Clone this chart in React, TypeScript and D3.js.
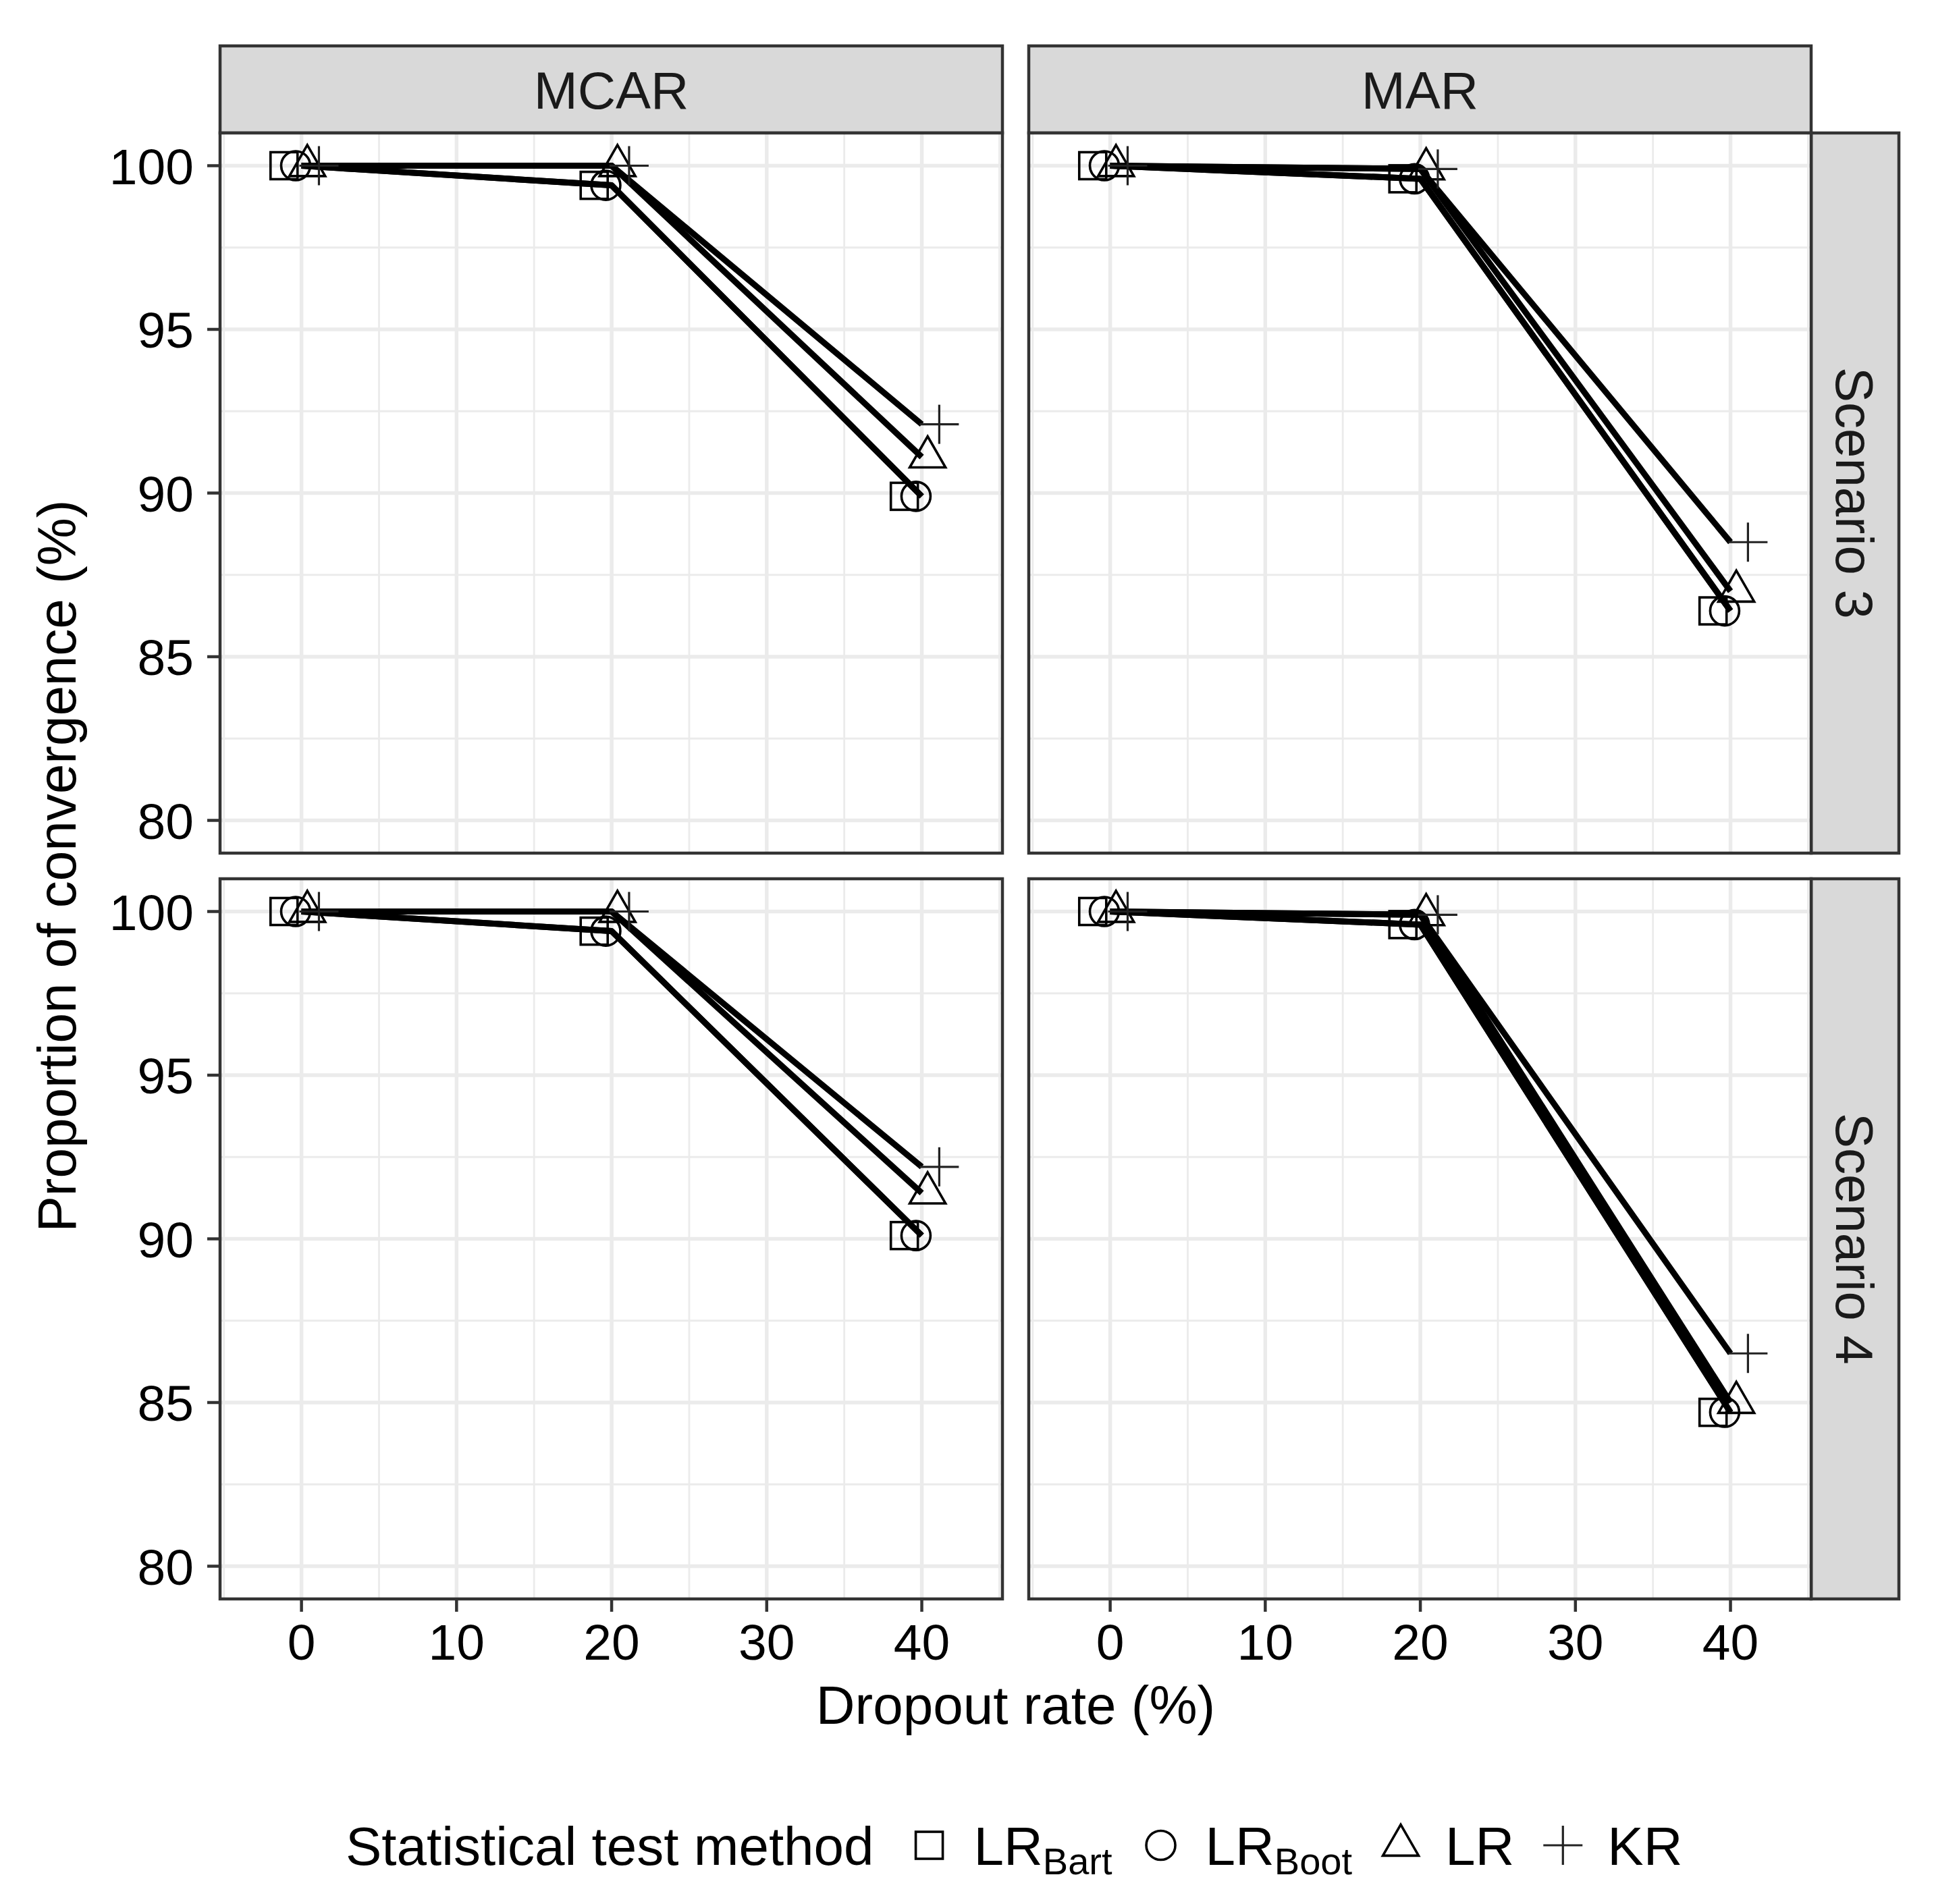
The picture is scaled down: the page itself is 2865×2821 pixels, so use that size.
import React from 'react';
import * as d3 from 'd3';

// ---------- data ----------
const dropoutRates = [0, 20, 40];
const methods = ['LR_Bart', 'LR_Boot', 'LR', 'KR'];
const mechanisms = ['MCAR', 'MAR'];
const scenarios = ['Scenario 3', 'Scenario 4'];

// Scenario 3, MCAR
const s3McarBart = [100, 99.4, 89.9];
const s3McarBoot = [100, 99.4, 89.9];
const s3McarLR = [100, 100, 91.1];
const s3McarKR = [100, 100, 92.1];
// Scenario 3, MAR
const s3MarBart = [100, 99.6, 86.4];
const s3MarBoot = [100, 99.6, 86.4];
const s3MarLR = [100, 99.9, 87.0];
const s3MarKR = [100, 99.9, 88.5];
// Scenario 4, MCAR
const s4McarBart = [100, 99.4, 90.1];
const s4McarBoot = [100, 99.4, 90.1];
const s4McarLR = [100, 100, 91.4];
const s4McarKR = [100, 100, 92.2];
// Scenario 4, MAR
const s4MarBart = [100, 99.6, 84.7];
const s4MarBoot = [100, 99.6, 84.7];
const s4MarLR = [100, 99.9, 85.0];
const s4MarKR = [100, 99.9, 86.5];

const xTicks = [0, 10, 20, 30, 40];
const xMinor = [-5, 5, 15, 25, 35, 45];
const yTicks = [80, 85, 90, 95, 100];
const yMinor = [82.5, 87.5, 92.5, 97.5];

const panelData: number[][][][] = [
  [
    [s3McarBart, s3McarBoot, s3McarLR, s3McarKR],
    [s3MarBart, s3MarBoot, s3MarLR, s3MarKR],
  ],
  [
    [s4McarBart, s4McarBoot, s4McarLR, s4McarKR],
    [s4MarBart, s4MarBoot, s4MarLR, s4MarKR],
  ],
];

// ---------- layout ----------
const W = 2865;
const H = 2821;
const FONT = "'Liberation Sans', Arial, Helvetica, sans-serif";
const panelLefts = [326, 1524];
const panelTops = [197, 1302];
const PW = 1159;
const PH = 1067;
const stripTop = 68;
const stripH = 129;
const stripRightX = 2683;
const stripW = 130;
const dodge = [-1.125, -0.375, 0.375, 1.125];
const BORDER = '#333333';
const GRID = '#ebebeb';

const x = d3.scaleLinear().domain([-5.25, 45.2]).range([0, PW]);
const y = d3.scaleLinear().domain([79, 101]).range([PH, 0]);

const lineGen = d3
  .line<[number, number]>()
  .x((d) => x(d[0]))
  .y((d) => y(d[1]));

function Marker({ method, cx, cy }: { method: string; cx: number; cy: number }) {
  const sw = 3.6;
  if (method === 'LR_Bart') {
    const s = 40;
    return <rect x={cx - s / 2} y={cy - s / 2} width={s} height={s} fill="none" stroke="#000" strokeWidth={sw} />;
  }
  if (method === 'LR_Boot') {
    return <circle cx={cx} cy={cy} r={21.5} fill="none" stroke="#000" strokeWidth={sw} />;
  }
  if (method === 'LR') {
    const h = 46;
    const hw = 26.5;
    const pts = [
      [cx, cy - (2 * h) / 3],
      [cx + hw, cy + h / 3],
      [cx - hw, cy + h / 3],
    ];
    return <polygon points={pts.map((p) => p.join(',')).join(' ')} fill="none" stroke="#000" strokeWidth={sw} strokeLinejoin="miter" />;
  }
  const a = 29;
  return (
    <g stroke="#222" strokeWidth={3.2}>
      <line x1={cx - a} y1={cy} x2={cx + a} y2={cy} />
      <line x1={cx} y1={cy - a} x2={cx} y2={cy + a} />
    </g>
  );
}

function measure(text: string, size: number): number {
  try {
    const c = document.createElement('canvas');
    const ctx = c.getContext('2d');
    if (ctx) {
      ctx.font = `${size}px 'Liberation Sans', Arial, sans-serif`;
      return ctx.measureText(text).width;
    }
  } catch (e) {}
  return text.length * size * 0.55;
}

function Panel({ row, col }: { row: number; col: number }) {
  const left = panelLefts[col];
  const top = panelTops[row];
  const series = panelData[row][col];
  return (
    <g transform={`translate(${left},${top})`}>
      <rect x={0} y={0} width={PW} height={PH} fill="#fff" />
      {xMinor.map((v) => (
        <line key={'xm' + v} x1={x(v)} x2={x(v)} y1={0} y2={PH} stroke={GRID} strokeWidth={2.8} />
      ))}
      {yMinor.map((v) => (
        <line key={'ym' + v} x1={0} x2={PW} y1={y(v)} y2={y(v)} stroke={GRID} strokeWidth={2.8} />
      ))}
      {xTicks.map((v) => (
        <line key={'xM' + v} x1={x(v)} x2={x(v)} y1={0} y2={PH} stroke={GRID} strokeWidth={5.5} />
      ))}
      {yTicks.map((v) => (
        <line key={'yM' + v} x1={0} x2={PW} y1={y(v)} y2={y(v)} stroke={GRID} strokeWidth={5.5} />
      ))}
      {series.map((vals, i) => (
        <path
          key={'l' + i}
          d={lineGen(dropoutRates.map((r, j) => [r, vals[j]] as [number, number])) || ''}
          fill="none"
          stroke="#000"
          strokeWidth={9}
          strokeLinejoin="round"
        />
      ))}
      {series.map((vals, i) =>
        dropoutRates.map((r, j) => (
          <Marker key={'p' + i + '-' + j} method={methods[i]} cx={x(r + dodge[i])} cy={y(vals[j])} />
        ))
      )}
      <rect x={0} y={0} width={PW} height={PH} fill="none" stroke={BORDER} strokeWidth={4.5} />
    </g>
  );
}

const legendLabels = [
  { main: 'LR', sub: 'Bart' },
  { main: 'LR', sub: 'Boot' },
  { main: 'LR', sub: '' },
  { main: 'KR', sub: '' },
];

export default function App() {
  const tickFont = 75;
  const titleFont = 80;
  const subFont = 56;

  // legend layout
  const legendTitle = 'Statistical test method';
  const legendX = 512;
  const legendBaseline = 2763;
  const keyCY = 2734;
  let cursor = legendX + measure(legendTitle, titleFont);
  const items = legendLabels.map((lab, i) => {
    const keyX = cursor + (i === 0 ? 82 : 72);
    const textX = keyX + 66;
    const w = measure(lab.main, titleFont) + (lab.sub ? measure(lab.sub, subFont) : 0);
    cursor = textX + w;
    return { ...lab, keyX, textX, method: methods[i] };
  });

  const plotLeft = panelLefts[0];
  const plotRight = panelLefts[1] + PW;
  const plotTop = panelTops[0];
  const plotBottom = panelTops[1] + PH;

  return (
    <svg
      width={W}
      height={H}
      viewBox={`0 0 ${W} ${H}`}
      style={{ position: 'absolute', left: 0, top: 0, background: '#fff' }}
      fontFamily={FONT}
    >
      <rect x={0} y={0} width={W} height={H} fill="#fff" />

      {/* top strips */}
      {mechanisms.map((m, c) => (
        <g key={'st' + m}>
          <rect x={panelLefts[c]} y={stripTop} width={PW} height={stripH} fill="#d9d9d9" stroke={BORDER} strokeWidth={4.5} />
          <text x={panelLefts[c] + PW / 2} y={stripTop + stripH / 2 + 28} textAnchor="middle" fontSize={78} fill="#1a1a1a">
            {m}
          </text>
        </g>
      ))}

      {/* right strips */}
      {scenarios.map((s, r) => (
        <g key={'sr' + s}>
          <rect x={stripRightX} y={panelTops[r]} width={stripW} height={PH} fill="#d9d9d9" stroke={BORDER} strokeWidth={4.5} />
          <text
            transform={`translate(${stripRightX + stripW / 2 - 28},${panelTops[r] + PH / 2}) rotate(90)`}
            textAnchor="middle"
            fontSize={78}
            fill="#1a1a1a"
          >
            {s}
          </text>
        </g>
      ))}

      {/* panels */}
      {[0, 1].map((r) => [0, 1].map((c) => <Panel key={`p${r}${c}`} row={r} col={c} />))}

      {/* y axes */}
      {panelTops.map((top, r) => (
        <g key={'ya' + r}>
          {yTicks.map((v) => (
            <g key={v}>
              <line x1={plotLeft - 19} x2={plotLeft} y1={top + y(v)} y2={top + y(v)} stroke={BORDER} strokeWidth={4.5} />
              <text x={plotLeft - 39} y={top + y(v) + 27} textAnchor="end" fontSize={tickFont} fill="#000">
                {v}
              </text>
            </g>
          ))}
        </g>
      ))}

      {/* x axes */}
      {panelLefts.map((left, c) => (
        <g key={'xa' + c}>
          {xTicks.map((v) => (
            <g key={v}>
              <line x1={left + x(v)} x2={left + x(v)} y1={plotBottom} y2={plotBottom + 19} stroke={BORDER} strokeWidth={4.5} />
              <text x={left + x(v)} y={2459} textAnchor="middle" fontSize={tickFont} fill="#000">
                {v}
              </text>
            </g>
          ))}
        </g>
      ))}

      {/* axis titles */}
      <text x={(plotLeft + plotRight) / 2} y={2554} textAnchor="middle" fontSize={titleFont} fill="#000">
        Dropout rate (%)
      </text>
      <text
        transform={`translate(112,${(plotTop + plotBottom) / 2}) rotate(-90)`}
        textAnchor="middle"
        fontSize={titleFont}
        fill="#000"
      >
        Proportion of convergence (%)
      </text>

      {/* legend */}
      <text x={legendX} y={legendBaseline} fontSize={titleFont} fill="#000">
        {legendTitle}
      </text>
      {items.map((it, i) => (
        <g key={'lg' + i}>
          <Marker method={it.method} cx={it.keyX} cy={keyCY} />
          <text x={it.textX} y={legendBaseline} fontSize={titleFont} fill="#000">
            {it.main}
            {it.sub ? (
              <tspan fontSize={subFont} dy={14}>
                {it.sub}
              </tspan>
            ) : null}
          </text>
        </g>
      ))}
    </svg>
  );
}
